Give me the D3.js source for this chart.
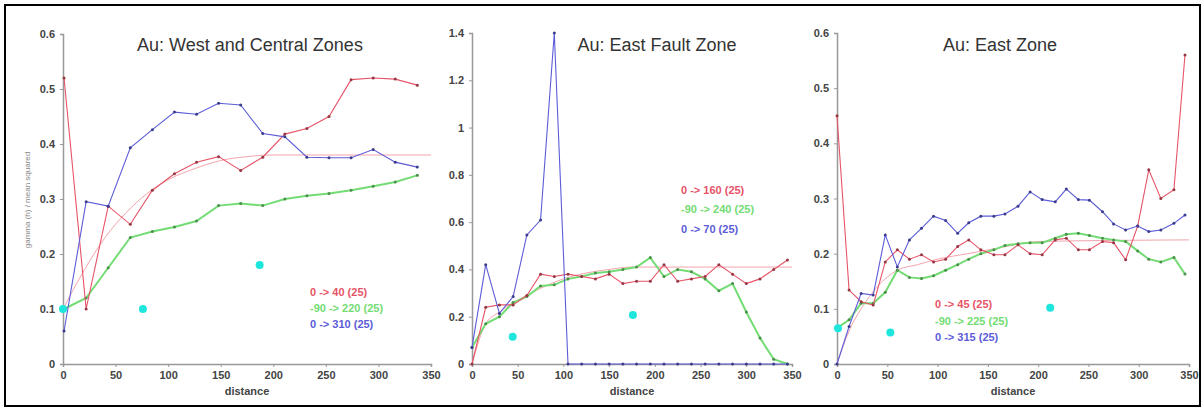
<!DOCTYPE html>
<html>
<head>
<meta charset="utf-8">
<script src="https://cdn.jsdelivr.net/npm/d3@7"></script>
<style>
    body { margin: 0; background: #fff; }
    svg { display: block; font-family: "Liberation Sans", Arial, sans-serif; }
</style>
</head>
<body>
<div class="container"></div>
<script>
// panel 1: West and Central Zones
const p1Dist = [1, 22, 43, 64, 85, 106, 127, 148, 169, 190, 211, 232, 253, 274, 295, 316, 337];
const p1Red = [0.52, 0.10, 0.287, 0.254, 0.316, 0.346, 0.367, 0.377, 0.352, 0.376, 0.418, 0.428, 0.45, 0.517, 0.52, 0.518, 0.507];
const p1Green = [0.10, 0.12, 0.175, 0.23, 0.241, 0.249, 0.26, 0.288, 0.292, 0.288, 0.30, 0.306, 0.31, 0.316, 0.323, 0.331, 0.343];
const p1Blue = [0.06, 0.295, 0.287, 0.393, 0.426, 0.458, 0.454, 0.474, 0.471, 0.419, 0.413, 0.376, 0.375, 0.375, 0.39, 0.367, 0.358];
const p1ModelDist = [0, 20, 40, 60, 80, 100, 125, 150, 175, 200, 350];
const p1Model = [0.10, 0.17, 0.23, 0.275, 0.31, 0.335, 0.355, 0.37, 0.377, 0.38, 0.38];
const p1CyanDist = [0, 76, 187];
const p1Cyan = [0.1, 0.1, 0.18];
const p1Legend = ['0 -> 40 (25)', '-90 -> 220 (25)', '0 -> 310 (25)'];

// panel 2: East Fault Zone
const p2Dist = [0, 15, 30, 45, 60, 75, 90, 105, 120, 135, 150, 165, 180, 195, 210, 225, 240, 255, 270, 285, 300, 315, 330, 345];
const p2Red = [0.0, 0.24, 0.25, 0.25, 0.29, 0.38, 0.37, 0.38, 0.37, 0.36, 0.38, 0.34, 0.35, 0.35, 0.42, 0.35, 0.36, 0.37, 0.42, 0.38, 0.34, 0.36, 0.40, 0.44];
const p2Green = [0.07, 0.17, 0.20, 0.26, 0.285, 0.33, 0.335, 0.36, 0.37, 0.385, 0.39, 0.40, 0.41, 0.45, 0.37, 0.40, 0.39, 0.36, 0.31, 0.34, 0.22, 0.11, 0.02, 0.0];
const p2Blue = [0.07, 0.42, 0.214, 0.285, 0.546, 0.609, 1.40, 0, 0, 0, 0, 0, 0, 0, 0, 0, 0, 0, 0, 0, 0, 0, 0, 0];
const p2ModelDist = [0, 15, 30, 50, 75, 100, 125, 150, 175, 350];
const p2Model = [0, 0.17, 0.22, 0.27, 0.32, 0.36, 0.385, 0.40, 0.41, 0.41];
const p2CyanDist = [44.5, 176];
const p2Cyan = [0.115, 0.207];
const p2Legend = ['0 -> 160 (25)', '-90 -> 240 (25)', '0 -> 70 (25)'];

// panel 3: East Zone
const p3Dist = [0, 12, 24, 36, 48, 60, 72, 84, 96, 108, 120, 131, 143, 156, 167, 180, 192, 204, 217, 228, 240, 251, 264, 275, 287, 299, 310, 322, 335, 346];
const p3Red = [0.45, 0.134, 0.113, 0.107, 0.185, 0.207, 0.19, 0.198, 0.185, 0.19, 0.213, 0.225, 0.207, 0.198, 0.198, 0.216, 0.2, 0.198, 0.225, 0.228, 0.207, 0.207, 0.222, 0.22, 0.189, 0.25, 0.352, 0.30, 0.316, 0.56];
const p3Green = [0.065, 0.08, 0.11, 0.11, 0.13, 0.17, 0.157, 0.155, 0.16, 0.17, 0.18, 0.19, 0.2, 0.207, 0.215, 0.218, 0.22, 0.22, 0.228, 0.235, 0.237, 0.233, 0.228, 0.225, 0.222, 0.205, 0.19, 0.185, 0.193, 0.163];
const p3Blue = [0, 0.068, 0.128, 0.125, 0.234, 0.176, 0.225, 0.246, 0.268, 0.26, 0.237, 0.256, 0.268, 0.268, 0.272, 0.286, 0.312, 0.298, 0.294, 0.317, 0.298, 0.297, 0.276, 0.254, 0.243, 0.25, 0.24, 0.243, 0.255, 0.27];
const p3ModelDist = [0, 12, 24, 40, 60, 80, 100, 130, 160, 200, 350];
const p3Model = [0, 0.06, 0.1, 0.14, 0.17, 0.18, 0.19, 0.2, 0.21, 0.222, 0.225];
const p3CyanDist = [1, 53, 212];
const p3Cyan = [0.065, 0.057, 0.102];
const p3Legend = ['0 -> 45 (25)', '-90 -> 225 (25)', '0 -> 315 (25)'];

const xTicks = [0, 50, 100, 150, 200, 250, 300, 350];

const panels = [
    { title: 'Au: West and Central Zones', titleX: 250, x0: 63, x1: 431, yTop: 34, yMax: 0.6, yStep: 0.1,
      dist: p1Dist, red: p1Red, green: p1Green, blue: p1Blue, modelDist: p1ModelDist, model: p1Model,
      cyanDist: p1CyanDist, cyan: p1Cyan, legend: p1Legend, legX: 310, legY: [296, 312, 328], yLabel: true },
    { title: 'Au: East Fault Zone', titleX: 657, x0: 472, x1: 792, yTop: 33, yMax: 1.4, yStep: 0.2,
      dist: p2Dist, red: p2Red, green: p2Green, blue: p2Blue, modelDist: p2ModelDist, model: p2Model,
      cyanDist: p2CyanDist, cyan: p2Cyan, legend: p2Legend, legX: 681, legY: [194, 213, 233], yLabel: false },
    { title: 'Au: East Zone', titleX: 1000, x0: 837, x1: 1189, yTop: 33, yMax: 0.6, yStep: 0.1,
      dist: p3Dist, red: p3Red, green: p3Green, blue: p3Blue, modelDist: p3ModelDist, model: p3Model,
      cyanDist: p3CyanDist, cyan: p3Cyan, legend: p3Legend, legX: 935, legY: [308, 325, 341], yLabel: false }
];

const colors = { red: '#e65468', green: '#74dc74', blue: '#5c5cd8', model: '#f2a4ac', cyan: '#1ee6dc' };

const svg = d3.select('.container').append('svg').attr('width', 1204).attr('height', 409);

svg.append('rect').attr('x', 5).attr('y', 5).attr('width', 1195).attr('height', 401)
    .attr('fill', '#fff').attr('stroke', '#000').attr('stroke-width', 2);

panels.forEach(p =>
{
    const x = d3.scaleLinear().domain([0, 350]).range([p.x0, p.x1]);
    const y = d3.scaleLinear().domain([0, p.yMax]).range([364, p.yTop]);
    const g = svg.append('g');

    const yTicks = d3.range(0, p.yMax + p.yStep / 2, p.yStep).map(v => +v.toFixed(2));

    const xAxis = g.append('g').attr('transform', 'translate(0,364)')
        .call(d3.axisBottom(x).tickValues(xTicks).tickSize(3).tickPadding(4).tickFormat(d3.format('~g')));
    const yAxis = g.append('g').attr('transform', `translate(${p.x0},0)`)
        .call(d3.axisLeft(y).tickValues(yTicks).tickSize(3).tickPadding(5).tickFormat(d3.format('~g')));

    [xAxis, yAxis].forEach(a =>
    {
        a.select('.domain').attr('stroke', '#999').attr('stroke-width', 1.5);
        a.selectAll('.tick line').attr('stroke', '#999');
        a.selectAll('text').attr('fill', '#444').attr('font-size', 11).attr('font-weight', 'bold')
            .attr('font-family', '"Liberation Sans", Arial, sans-serif');
    });

    g.append('text').attr('x', (p.x0 + p.x1) / 2).attr('y', 395).attr('text-anchor', 'middle')
        .attr('font-size', 11).attr('fill', '#444').attr('font-weight', 'bold').text('distance');

    g.append('text').attr('x', p.titleX).attr('y', 51).attr('text-anchor', 'middle')
        .attr('font-size', 18).attr('fill', '#333').text(p.title);

    if (p.yLabel)
    {
        g.append('text').attr('transform', 'translate(30,200) rotate(-90)').attr('text-anchor', 'middle')
            .attr('font-size', 8).attr('fill', '#888').text('gamma (h) / mean squared');
    }

    const line = d3.line().x(d => x(d[0])).y(d => y(d[1]));

    // model curve
    const model = p.modelDist.map((d, i) => [d, p.model[i]]);
    g.append('path').attr('d', line.curve(d3.curveMonotoneX)(model))
        .attr('fill', 'none').attr('stroke', colors.model).attr('stroke-width', 1);
    line.curve(d3.curveLinear);

    const series = [
        { key: 'green', vals: p.green, w: 2 },
        { key: 'red', vals: p.red, w: 1.1 },
        { key: 'blue', vals: p.blue, w: 1.1 }
    ];

    series.forEach(s =>
    {
        const pts = p.dist.map((d, i) => [d, s.vals[i]]);
        g.append('path').attr('d', line(pts)).attr('fill', 'none')
            .attr('stroke', colors[s.key]).attr('stroke-width', s.w);
        g.selectAll(null).data(pts).enter().append('circle')
            .attr('cx', d => x(d[0])).attr('cy', d => y(d[1])).attr('r', 1.5)
            .attr('fill', d3.color(colors[s.key]).darker(1.2));
    });

    // cyan markers
    g.selectAll(null).data(p.cyanDist.map((d, i) => [d, p.cyan[i]])).enter().append('circle')
        .attr('cx', d => x(d[0])).attr('cy', d => y(d[1])).attr('r', 4)
        .attr('fill', colors.cyan);

    // legend
    [colors.red, colors.green, colors.blue].forEach((c, i) =>
    {
        g.append('text').attr('x', p.legX).attr('y', p.legY[i]).attr('font-size', 11)
            .attr('font-weight', 'bold').attr('fill', c).text(p.legend[i]);
    });
});
</script>
</body>
</html>
